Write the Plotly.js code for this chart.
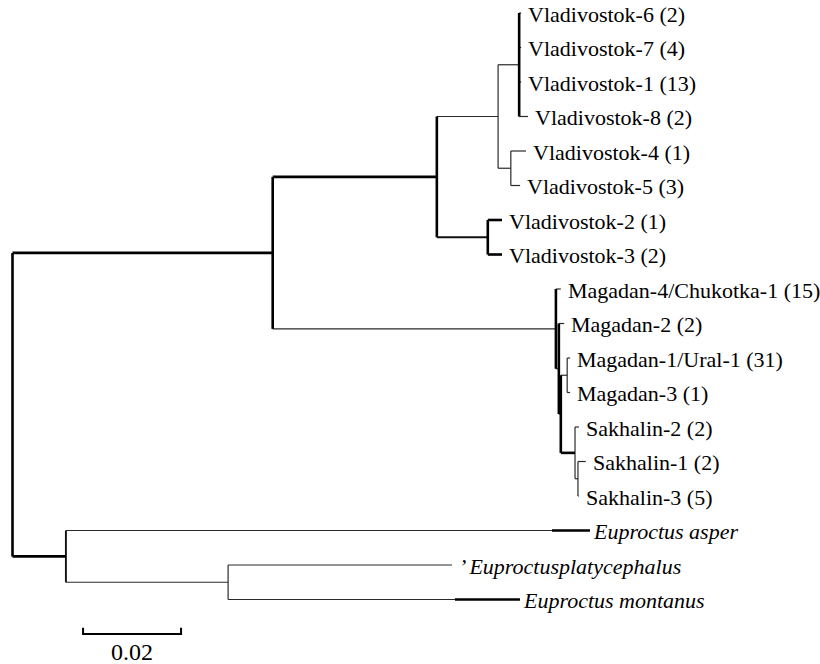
<!DOCTYPE html>
<html>
<head>
<meta charset="utf-8">
<script src="https://cdn.plot.ly/plotly-3.0.1.min.js"></script>
<style>
  html, body { margin: 0; padding: 0; background: #ffffff; }
  #chart { width: 820px; height: 664px; }
</style>
</head>
<body>
<div id="chart"></div>
<script>
// ---------------- DATA ----------------
// Tree nodes: id, parent id, branch length (substitutions per site)
const nodeIds = ["root","ingroup","outgroup","vlad","mag","vladA","vladB","vladA1","vladA2",
  "V6","V7","V1","V8","V4","V5","V2","V3",
  "Mag4","magB","Mag2","magC","magD","Mag1","Mag3","sakh","Sak2","sakhB","Sak1","Sak3",
  "asper","platyNode","platy","montanus"];
const nodeParents = [null,"root","root","ingroup","ingroup","vlad","vlad","vladA","vladA",
  "vladA1","vladA1","vladA1","vladA1","vladA2","vladA2","vladB","vladB",
  "mag","mag","magB","magB","magC","magD","magD","magC","sakh","sakh","sakhB","sakhB",
  "outgroup","outgroup","platyNode","platyNode"];
const branchLengths = [0,0.0531,0.0109,0.0335,0.0578,0.0125,0.0104,0.0043,0.0026,
  0.0004,0.0004,0.0004,0.0018,0.0031,0.0019,0.0029,0.0029,
  0.0010,0.0006,0.0011,0.0004,0.0013,0.0006,0.0006,0.0029,0.0008,0.0006,0.0016,0.0002,
  0.0992,0.0331,0.0457,0.0463];

// Tip labels
const tipIds = ["V6","V7","V1","V8","V4","V5","V2","V3",
  "Mag4","Mag2","Mag1","Mag3","Sak2","Sak1","Sak3","asper","platy","montanus"];
const tipLabels = ["Vladivostok-6 (2)","Vladivostok-7 (4)","Vladivostok-1 (13)","Vladivostok-8 (2)",
  "Vladivostok-4 (1)","Vladivostok-5 (3)","Vladivostok-2 (1)","Vladivostok-3 (2)",
  "Magadan-4/Chukotka-1 (15)","Magadan-2 (2)","Magadan-1/Ural-1 (31)","Magadan-3 (1)",
  "Sakhalin-2 (2)","Sakhalin-1 (2)","Sakhalin-3 (5)",
  "Euproctus asper","\u2019 Euproctusplatycephalus","Euproctus montanus"];
const italicTips = ["asper","platy","montanus"];

// Scale bar
const scaleBarLength = 0.02;
const scaleBarStart = 0.0144;
const scaleBarLabel = "0.02";

// ---------------- STYLE ----------------
const thickH = ["ingroup","outgroup","vlad","V2","V3","sakh"];
const mediumH = ["vladB"];
const thickV = ["root","ingroup","vlad","vladA1","vladB","mag","magB","magC"];
const mediumV = ["outgroup"];
const leaderPx = {asper: 38, montanus: 65};   // thick dash before label (pixels)
const labelGap = 5;
const FONT = "Liberation Serif, Times New Roman, serif";

// ---------------- BUILD TREE ----------------
const idx = {};
nodeIds.forEach((id, i) => idx[id] = i);
const children = {};
nodeIds.forEach(id => children[id] = []);
nodeIds.forEach((id, i) => { if (nodeParents[i]) children[nodeParents[i]].push(id); });

const X = {}, Y = {};
let tipCounter = 0;
function layout(id, px) {
  const x = px + branchLengths[idx[id]];
  X[id] = x;
  const ch = children[id];
  if (ch.length === 0) {
    Y[id] = tipCounter++;
  } else {
    ch.forEach(c => layout(c, x));
    Y[id] = (Y[ch[0]] + Y[ch[ch.length - 1]]) / 2;
  }
}
layout("root", 0);

const segs = {thick: {x: [], y: []}, medium: {x: [], y: []}, thin: {x: [], y: []}};
function push(cls, x0, y0, x1, y1) {
  segs[cls].x.push(x0, x1, null);
  segs[cls].y.push(y0, y1, null);
}
nodeIds.forEach((id, i) => {
  const p = nodeParents[i];
  if (p) {
    const cls = thickH.includes(id) ? "thick" : (mediumH.includes(id) ? "medium" : "thin");
    push(cls, X[p], Y[id], X[id], Y[id]);
  }
  const ch = children[id];
  if (ch.length) {
    const cls = thickV.includes(id) ? "thick" : (mediumV.includes(id) ? "medium" : "thin");
    push(cls, X[id], Y[ch[0]], X[id], Y[ch[ch.length - 1]]);
  }
});

const traces = [
  {x: segs.thin.x, y: segs.thin.y, mode: "lines", line: {color: "#2a2a2a", width: 1.2}, hoverinfo: "skip", showlegend: false},
  {x: segs.medium.x, y: segs.medium.y, mode: "lines", line: {color: "#111111", width: 1.9}, hoverinfo: "skip", showlegend: false},
  {x: segs.thick.x, y: segs.thick.y, mode: "lines", line: {color: "#000000", width: 2.6}, hoverinfo: "skip", showlegend: false}
];

// Scale bar trace
const sbY = tipCounter;          // one row below the last tip
const tickH = 0.18;
traces.push({
  x: [scaleBarStart, scaleBarStart, scaleBarStart + scaleBarLength, scaleBarStart + scaleBarLength],
  y: [sbY - tickH, sbY, sbY, sbY - tickH],
  mode: "lines", line: {color: "#000000", width: 2}, hoverinfo: "skip", showlegend: false
});

const annotations = [];
const shapes = [];
tipIds.forEach((id, i) => {
  const italic = italicTips.includes(id);
  const lead = leaderPx[id] || 0;
  if (lead) {
    shapes.push({type: "line", xref: "x", yref: "y", xsizemode: "pixel", xanchor: X[id],
      x0: 0, x1: lead, y0: Y[id], y1: Y[id], line: {color: "#000000", width: 2.6}});
  }
  annotations.push({
    x: X[id], y: Y[id], xref: "x", yref: "y", xanchor: "left", yanchor: "middle",
    xshift: labelGap + lead - (lead ? 4 : 0), yshift: -1,
    text: italic ? "<i>" + tipLabels[i] + "</i>" : tipLabels[i],
    showarrow: false,
    font: {family: FONT, size: 22, color: "#000000"}
  });
});
annotations.push({
  x: scaleBarStart + scaleBarLength / 2, y: sbY, xref: "x", yref: "y",
  xanchor: "center", yanchor: "top", yshift: -3, showarrow: false,
  text: scaleBarLabel,
  font: {family: FONT, size: 24, color: "#000000"}
});

// axis ranges: map tree units to the page
const pxPerUnit = 4900, rootPx = 12.5, rowPx = 34.5, firstRowPx = 13;
const layoutObj = {
  width: 820, height: 664,
  margin: {l: 0, r: 0, t: 0, b: 0, pad: 0},
  paper_bgcolor: "#ffffff", plot_bgcolor: "#ffffff",
  font: {family: FONT},
  xaxis: {range: [-rootPx / pxPerUnit, (820 - rootPx) / pxPerUnit], visible: false, fixedrange: true},
  yaxis: {range: [(664 - firstRowPx) / rowPx, -firstRowPx / rowPx], visible: false, fixedrange: true},
  annotations: annotations,
  shapes: shapes,
  showlegend: false
};

Plotly.newPlot("chart", traces, layoutObj, {displayModeBar: false, staticPlot: true});
</script>
</body>
</html>
